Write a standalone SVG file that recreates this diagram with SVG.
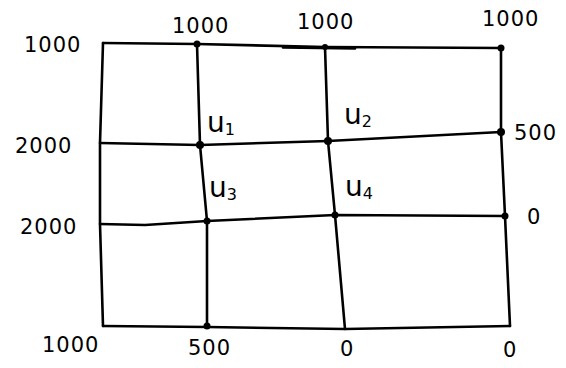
<svg xmlns="http://www.w3.org/2000/svg" width="566" height="368" viewBox="0 0 566 368">
<style>
.ln{fill:none;stroke:#000;stroke-width:2.6;stroke-linecap:round;stroke-linejoin:round}
.dot{fill:#000}
.t{font-family:"DejaVu Sans",sans-serif;font-size:21px;fill:#000;letter-spacing:1px}
.u{font-family:"DejaVu Sans",sans-serif;font-size:28px;fill:#000}
.s{font-size:16px}
</style>
<rect width="566" height="368" fill="#fff"/>
<g id="connectors">
<polyline class="ln" points="103,43 197,44 325,47 501,48"/>
<line class="ln" x1="283" y1="47.5" x2="355" y2="48.5" stroke-width="3.4"/>
<polyline class="ln" points="100,143 200,145 328,141 501,132"/>
<polyline class="ln" points="100,224 145,225 207,221 335,215 505,216"/>
<polyline class="ln" points="103,326 207,327 345,329 510,326"/>
<polyline class="ln" points="103,43 100,143 100,224 103,326"/>
<polyline class="ln" points="197,44 200,145 207,221 207,327"/>
<polyline class="ln" points="325,47 328,141 335,215 345,329"/>
<polyline class="ln" points="501,48 501,132 505,216 510,326"/>
</g>
<g id="nodes">
<g id="n-top"><circle class="dot" cx="197" cy="44" r="3.5"/><circle class="dot" cx="325" cy="47" r="3"/><circle class="dot" cx="501" cy="48" r="3.5"/></g>
<g id="u1"><circle class="dot" cx="200" cy="145" r="4"/><text class="u" x="207" y="132">u<tspan class="s" dy="3">1</tspan></text></g>
<g id="u2"><circle class="dot" cx="328" cy="141" r="4"/><text class="u" x="344" y="124">u<tspan class="s" dy="3">2</tspan></text></g>
<g id="u3"><circle class="dot" cx="207" cy="221" r="3.5"/><text class="u" x="209" y="197">u<tspan class="s" dy="3">3</tspan></text></g>
<g id="u4"><circle class="dot" cx="335" cy="215" r="3.5"/><text class="u" x="345" y="196">u<tspan class="s" dy="3">4</tspan></text></g>
<g id="n-right"><circle class="dot" cx="501" cy="132" r="4"/><circle class="dot" cx="505" cy="216" r="3.5"/></g>
<g id="n-bottom"><circle class="dot" cx="207" cy="326" r="3.5"/></g>
</g>
<g id="labels">
<text class="t" x="24" y="52">1000</text>
<text class="t" x="172" y="33">1000</text>
<text class="t" x="297" y="29">1000</text>
<text class="t" x="482" y="26">1000</text>
<text class="t" x="15" y="153">2000</text>
<text class="t" x="20" y="234">2000</text>
<text class="t" x="514" y="140">500</text>
<text class="t" x="527" y="224">0</text>
<text class="t" x="42" y="352">1000</text>
<text class="t" x="188" y="355">500</text>
<text class="t" x="340" y="356">0</text>
<text class="t" x="503" y="357">0</text>
</g>
</svg>
